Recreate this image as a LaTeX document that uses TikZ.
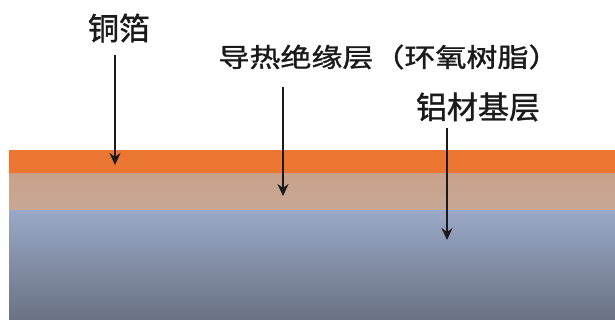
\documentclass[tikz,border=0pt]{standalone}
\usepackage{fontspec}
\newfontfamily\cjk[FakeBold=1.2]{Noto Sans CJK SC}
\usetikzlibrary{arrows.meta}
\definecolor{copper}{HTML}{EB7631}
\definecolor{resinTop}{HTML}{C9A18A}
\definecolor{resinBot}{HTML}{C7A894}
\definecolor{alTop}{HTML}{9AA9C7}
\definecolor{alBot}{HTML}{6A7284}
\definecolor{labelc}{HTML}{1A1A1A}
\tikzset{
  lbl/.style={inner sep=0pt, text=labelc, font=\cjk\fontsize{31}{31}\selectfont},
  lblmid/.style={inner sep=0pt, text=labelc, font=\cjk\fontsize{31}{31}\selectfont},
  pointer/.style={draw=labelc, line width=2pt, -{Stealth[length=12pt,width=11pt,inset=4pt]}}
}
\begin{document}
\begin{tikzpicture}[x=1pt,y=-1pt]
\useasboundingbox (0,0) rectangle (615,320);
\fill[white] (0,0) rectangle (615,320);
% layers
\shade[top color=alTop, bottom color=alBot] (9,210) rectangle (615,320);
\shade[top color=resinTop, bottom color=resinBot] (9,173) rectangle (615,210);
\fill[copper] (9,150) rectangle (615,173);
% labels
\node[lbl] (t1) at (119,28) {铜箔};
\node[lblmid, yscale=0.84] (t2) at (389,57) {导热绝缘层（环氧树脂）};
\node[lbl] (t3) at (478,107) {铝材基层};
% arrow ends
\coordinate (s1) at (115,55);  \coordinate (e1) at (115,165);
\coordinate (s2) at (283,87);  \coordinate (e2) at (283,196);
\coordinate (s3) at (447,128); \coordinate (e3) at (447,240);
\draw[pointer] (s1) -- (e1);
\draw[pointer] (s2) -- (e2);
\draw[pointer] (s3) -- (e3);
\end{tikzpicture}
\end{document}
